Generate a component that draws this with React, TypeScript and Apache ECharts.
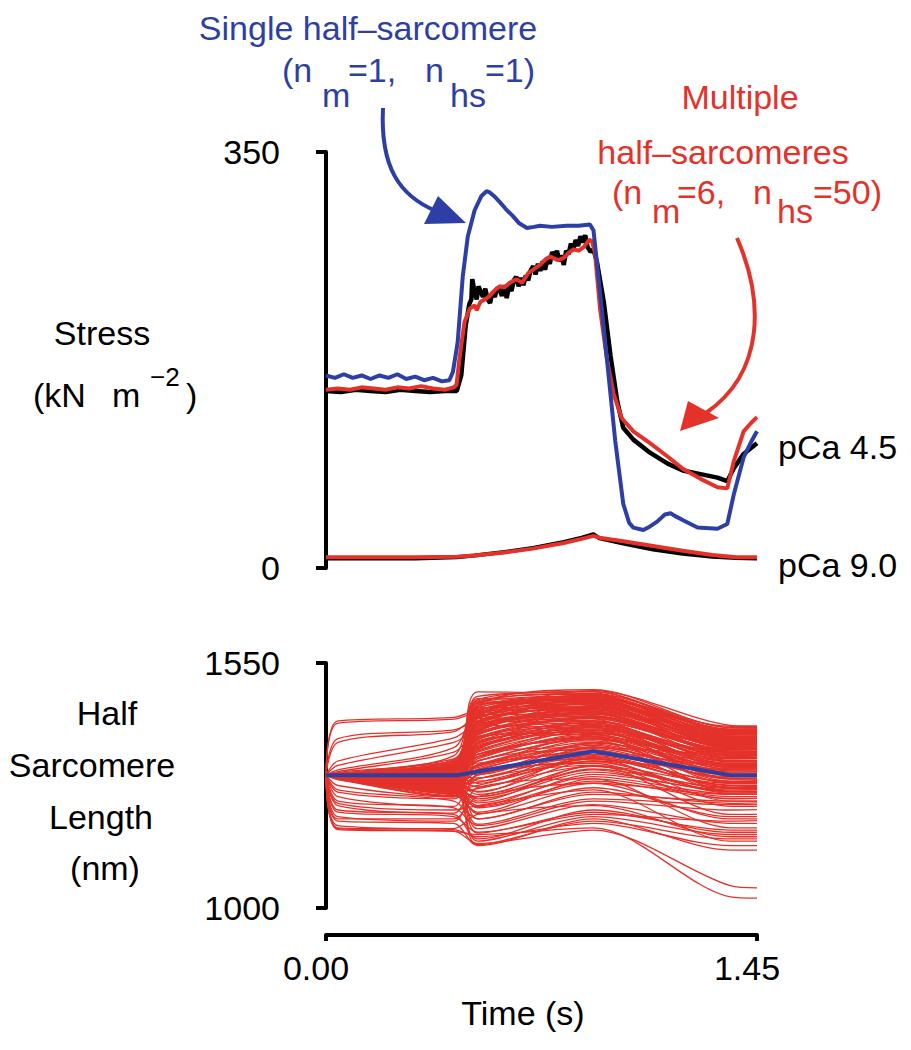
import React, { useEffect, useRef } from "react";
import * as echarts from "echarts";

const BLUE = "#2d3fa5";
const RED = "#e4322b";
const FONT = "'Liberation Sans', Arial, Helvetica, sans-serif";

const timeTicks = [0, 1.45];
const stressTicks = [0, 350];
const lengthTicks = [1000, 1550];

// Stress traces [time (s), stress (kN m^-2)]
const singleHs45: [number, number][] = [
  [0, 162], [0.03, 160], [0.06, 163], [0.09, 160], [0.12, 162], [0.15, 159], [0.18, 162], [0.21, 160],
  [0.24, 163], [0.27, 159], [0.3, 161], [0.33, 158], [0.36, 160], [0.39, 157], [0.415, 158], [0.427, 165],
  [0.443, 190], [0.46, 245], [0.477, 279], [0.5, 301], [0.523, 313], [0.54, 317], [0.551, 316], [0.565, 313],
  [0.584, 308], [0.605, 302], [0.629, 296], [0.65, 290], [0.676, 286], [0.7, 287], [0.72, 288], [0.76, 287],
  [0.81, 288], [0.85, 288], [0.888, 289], [0.9, 284], [0.922, 232], [0.945, 176], [0.973, 107], [1.0, 54],
  [1.02, 38], [1.034, 34], [1.068, 32], [1.09, 35], [1.114, 39], [1.14, 45], [1.159, 46], [1.18, 43],
  [1.203, 40], [1.25, 34], [1.317, 33], [1.35, 37], [1.372, 62], [1.405, 93], [1.43, 106], [1.45, 115],
];

const multiHs45: [number, number][] = [
  [0, 150], [0.04, 151], [0.08, 150], [0.12, 152], [0.16, 151], [0.2, 150], [0.24, 152], [0.28, 151],
  [0.32, 153], [0.36, 151], [0.4, 150], [0.43, 152], [0.439, 154], [0.449, 176], [0.466, 207], [0.483, 218],
  [0.5, 221], [0.507, 217], [0.52, 224], [0.535, 226], [0.551, 229], [0.565, 233], [0.584, 237], [0.6, 236],
  [0.618, 240], [0.64, 243], [0.66, 240], [0.68, 248], [0.697, 251], [0.72, 255], [0.74, 260], [0.754, 262],
  [0.78, 259], [0.8, 261], [0.82, 266], [0.833, 268], [0.85, 267], [0.867, 270], [0.885, 276], [0.895, 275],
  [0.905, 265], [0.922, 218], [0.945, 176], [0.968, 146], [0.995, 126], [1.034, 115], [1.09, 105], [1.148, 94],
  [1.203, 83], [1.26, 75], [1.317, 68], [1.35, 67], [1.372, 90], [1.405, 115], [1.43, 122], [1.45, 127],
];

const experiment45: [number, number][] = [
  [0, 149], [0.05, 148], [0.1, 150], [0.15, 149], [0.2, 148], [0.25, 150], [0.3, 149], [0.35, 148],
  [0.4, 149], [0.44, 149], [0.455, 162], [0.47, 204], [0.482, 222], [0.489, 226], [0.492, 243], [0.497, 236],
  [0.5, 232], [0.507, 226], [0.513, 237], [0.52, 233], [0.528, 228], [0.536, 235], [0.544, 226], [0.552, 223],
  [0.56, 232], [0.568, 228], [0.576, 236], [0.584, 234], [0.592, 229], [0.6, 238], [0.608, 227], [0.616, 238],
  [0.624, 233], [0.632, 242], [0.64, 245], [0.648, 237], [0.656, 244], [0.664, 238], [0.672, 246], [0.68, 242],
  [0.688, 250], [0.697, 254], [0.705, 247], [0.713, 256], [0.721, 250], [0.729, 258], [0.737, 251], [0.745, 260],
  [0.753, 256], [0.761, 266], [0.769, 261], [0.777, 267], [0.785, 258], [0.793, 263], [0.8, 255], [0.808, 267],
  [0.816, 264], [0.824, 273], [0.832, 268], [0.84, 276], [0.848, 271], [0.856, 279], [0.864, 274], [0.872, 280],
  [0.88, 270], [0.89, 266], [0.9, 268], [0.912, 257], [0.935, 223], [0.957, 179], [0.98, 140], [1.0, 118],
  [1.034, 108], [1.09, 97], [1.148, 88], [1.2, 82], [1.26, 79], [1.317, 76], [1.35, 73], [1.372, 84],
  [1.405, 96], [1.43, 101], [1.45, 105],
];

const multiHs90: [number, number][] = [
  [0, 9], [0.1, 9], [0.2, 9], [0.3, 9], [0.44, 9.5], [0.5, 10.5], [0.6, 13], [0.7, 16.5], [0.8, 21],
  [0.86, 24.5], [0.9, 27], [0.92, 25.5], [1.0, 22.5], [1.1, 18.5], [1.2, 14.5], [1.3, 11], [1.38, 9], [1.45, 9],
];

const experiment90: [number, number][] = [
  [0, 8], [0.1, 8], [0.2, 8], [0.3, 8], [0.44, 9], [0.5, 10.5], [0.6, 13.5], [0.7, 17], [0.8, 22],
  [0.86, 25.5], [0.9, 28.5], [0.92, 25], [1.0, 20.5], [1.1, 15.5], [1.2, 12], [1.3, 9.5], [1.38, 8.5], [1.45, 8],
];

// Half-sarcomere lengths (nm) at these times (s)
const hsLenTimes = [0, 0.04, 0.43, 0.51, 0.9, 1.36, 1.45];
const hsLengths: number[][] = [
  [1298, 1420, 1428, 1445, 1488, 1410, 1408],
  [1298, 1415, 1424, 1440, 1480, 1405, 1404],
  [1298, 1380, 1400, 1420, 1470, 1398, 1397],
  [1298, 1372, 1396, 1430, 1460, 1390, 1390],
  [1298, 1330, 1382, 1415, 1475, 1400, 1399],
  [1298, 1320, 1372, 1400, 1462, 1385, 1386],
  [1298, 1310, 1360, 1440, 1450, 1380, 1380],
  [1298, 1306, 1350, 1395, 1440, 1395, 1394],
  [1298, 1304, 1342, 1460, 1455, 1370, 1372],
  [1298, 1302, 1335, 1380, 1430, 1362, 1363],
  [1298, 1300, 1328, 1450, 1468, 1388, 1388],
  [1298, 1300, 1325, 1410, 1445, 1375, 1376],
  [1298, 1299, 1322, 1370, 1420, 1355, 1356],
  [1298, 1299, 1318, 1435, 1478, 1392, 1392],
  [1298, 1299, 1315, 1340, 1400, 1345, 1346],
  [1298, 1299, 1312, 1465, 1440, 1368, 1369],
  [1298, 1299, 1310, 1390, 1425, 1350, 1350],
  [1298, 1298, 1307, 1320, 1385, 1335, 1336],
  [1298, 1298, 1305, 1455, 1470, 1382, 1382],
  [1298, 1298, 1303, 1360, 1410, 1340, 1341],
  [1298, 1298, 1301, 1425, 1452, 1372, 1373],
  [1298, 1298, 1300, 1300, 1370, 1325, 1326],
  [1298, 1298, 1299, 1445, 1462, 1378, 1378],
  [1298, 1298, 1298, 1350, 1395, 1320, 1321],
  [1298, 1298, 1297, 1405, 1435, 1360, 1360],
  [1298, 1298, 1296, 1280, 1360, 1310, 1311],
  [1298, 1298, 1295, 1470, 1458, 1365, 1366],
  [1298, 1298, 1293, 1330, 1380, 1305, 1306],
  [1298, 1298, 1291, 1395, 1415, 1330, 1331],
  [1298, 1298, 1290, 1260, 1345, 1295, 1296],
  [1298, 1298, 1288, 1420, 1448, 1358, 1358],
  [1298, 1297, 1285, 1310, 1365, 1290, 1291],
  [1298, 1297, 1283, 1385, 1405, 1315, 1316],
  [1298, 1297, 1280, 1240, 1320, 1280, 1281],
  [1298, 1297, 1278, 1450, 1442, 1348, 1348],
  [1298, 1297, 1275, 1290, 1340, 1272, 1273],
  [1298, 1296, 1273, 1365, 1390, 1300, 1301],
  [1298, 1296, 1270, 1230, 1300, 1265, 1266],
  [1298, 1295, 1268, 1410, 1430, 1338, 1338],
  [1298, 1294, 1265, 1275, 1330, 1258, 1259],
  [1298, 1293, 1262, 1345, 1375, 1285, 1286],
  [1298, 1292, 1258, 1215, 1290, 1250, 1250],
  [1298, 1290, 1255, 1435, 1425, 1330, 1330],
  [1298, 1288, 1250, 1250, 1310, 1245, 1246],
  [1298, 1275, 1249, 1330, 1355, 1270, 1270],
  [1298, 1265, 1240, 1200, 1260, 1235, 1236],
  [1298, 1250, 1228, 1380, 1400, 1290, 1290],
  [1298, 1240, 1225, 1185, 1240, 1220, 1221],
  [1298, 1230, 1213, 1300, 1335, 1240, 1240],
  [1298, 1215, 1205, 1170, 1210, 1195, 1196],
  [1298, 1200, 1200, 1250, 1280, 1200, 1200],
  [1298, 1180, 1176, 1160, 1190, 1140, 1140],
  [1298, 1178, 1173, 1145, 1175, 1050, 1045],
  [1298, 1176, 1172, 1165, 1180, 1025, 1022],
  [1298, 1185, 1178, 1210, 1230, 1160, 1160],
  [1298, 1195, 1190, 1140, 1200, 1130, 1130],
  [1298, 1205, 1195, 1270, 1290, 1180, 1180],
  [1298, 1220, 1210, 1155, 1220, 1170, 1170],
  [1298, 1235, 1220, 1230, 1265, 1150, 1150],
  [1298, 1260, 1245, 1290, 1320, 1210, 1210],
  [1298, 1299, 1320, 1475, 1485, 1395, 1395],
  [1298, 1298, 1308, 1425, 1465, 1385, 1384],
  [1298, 1298, 1300, 1355, 1455, 1390, 1390],
  [1298, 1297, 1290, 1400, 1445, 1380, 1380],
  [1298, 1296, 1282, 1440, 1472, 1400, 1401],
  [1298, 1299, 1316, 1325, 1350, 1320, 1320],
  [1298, 1298, 1302, 1375, 1395, 1350, 1350],
  [1298, 1297, 1286, 1345, 1360, 1345, 1345],
  [1298, 1296, 1276, 1262, 1330, 1310, 1310],
  [1298, 1295, 1270, 1320, 1345, 1305, 1305],
  [1298, 1294, 1266, 1395, 1440, 1370, 1370],
  [1298, 1293, 1260, 1430, 1470, 1360, 1360],
  [1298, 1299, 1324, 1285, 1335, 1275, 1275],
  [1298, 1298, 1304, 1345, 1385, 1262, 1262],
  [1298, 1297, 1284, 1465, 1480, 1375, 1375],
  [1298, 1296, 1274, 1225, 1280, 1255, 1255],
  [1298, 1299, 1312, 1415, 1460, 1343, 1343],
  [1298, 1298, 1296, 1390, 1420, 1352, 1352],
  [1298, 1297, 1279, 1455, 1490, 1405, 1405],
  [1298, 1296, 1270, 1305, 1325, 1228, 1228],
  [1298, 1299, 1331, 1398, 1452, 1386, 1386],
  [1298, 1299, 1327, 1362, 1418, 1366, 1366],
  [1298, 1299, 1323, 1442, 1466, 1396, 1396],
  [1298, 1299, 1319, 1305, 1372, 1318, 1318],
  [1298, 1299, 1317, 1452, 1475, 1389, 1389],
  [1298, 1299, 1314, 1378, 1428, 1352, 1352],
  [1298, 1299, 1311, 1418, 1446, 1377, 1377],
  [1298, 1298, 1309, 1338, 1392, 1332, 1332],
  [1298, 1298, 1306, 1462, 1482, 1402, 1402],
  [1298, 1298, 1304, 1388, 1436, 1364, 1364],
  [1298, 1298, 1302, 1318, 1378, 1312, 1312],
  [1298, 1298, 1301, 1432, 1458, 1384, 1384],
  [1298, 1298, 1299, 1368, 1412, 1346, 1346],
  [1298, 1298, 1298, 1448, 1472, 1393, 1393],
  [1298, 1298, 1297, 1292, 1362, 1298, 1298],
  [1298, 1298, 1296, 1412, 1450, 1374, 1374],
  [1298, 1298, 1294, 1352, 1402, 1338, 1338],
  [1298, 1298, 1292, 1438, 1464, 1383, 1383],
  [1298, 1298, 1291, 1272, 1338, 1284, 1284],
  [1298, 1298, 1289, 1402, 1438, 1362, 1362],
  [1298, 1297, 1287, 1335, 1388, 1322, 1322],
  [1298, 1297, 1286, 1458, 1468, 1380, 1380],
  [1298, 1297, 1284, 1255, 1318, 1268, 1268],
  [1298, 1297, 1282, 1392, 1428, 1356, 1356],
  [1298, 1297, 1280, 1322, 1372, 1308, 1308],
  [1298, 1297, 1279, 1428, 1452, 1372, 1372],
  [1298, 1296, 1277, 1245, 1305, 1262, 1262],
  [1298, 1296, 1275, 1372, 1415, 1342, 1342],
  [1298, 1296, 1273, 1312, 1352, 1292, 1292],
  [1298, 1296, 1271, 1418, 1446, 1366, 1366],
  [1298, 1295, 1269, 1236, 1295, 1256, 1256],
  [1298, 1295, 1267, 1358, 1398, 1328, 1328],
  [1298, 1294, 1264, 1298, 1342, 1282, 1282],
  [1298, 1294, 1262, 1408, 1436, 1352, 1352],
  [1298, 1293, 1259, 1268, 1318, 1262, 1262],
  [1298, 1292, 1256, 1382, 1410, 1322, 1322],
  [1298, 1300, 1333, 1425, 1478, 1398, 1398],
  [1298, 1300, 1329, 1345, 1405, 1350, 1350],
  [1298, 1299, 1321, 1468, 1486, 1400, 1400],
  [1298, 1299, 1313, 1355, 1408, 1336, 1336],
  [1298, 1298, 1307, 1405, 1442, 1370, 1370],
  [1298, 1298, 1303, 1330, 1382, 1330, 1330],
  [1298, 1298, 1300, 1460, 1476, 1392, 1392],
  [1298, 1298, 1295, 1382, 1425, 1356, 1356],
  [1298, 1298, 1292, 1315, 1368, 1300, 1300],
  [1298, 1297, 1288, 1445, 1462, 1376, 1376],
  [1298, 1297, 1283, 1362, 1405, 1336, 1336],
  [1298, 1296, 1278, 1282, 1335, 1276, 1276],
  [1298, 1296, 1274, 1435, 1456, 1368, 1368],
  [1298, 1295, 1270, 1340, 1382, 1316, 1316],
  [1298, 1294, 1266, 1250, 1312, 1270, 1270],
  [1298, 1293, 1261, 1398, 1432, 1348, 1348],
  [1298, 1292, 1257, 1320, 1358, 1290, 1290],
  [1298, 1291, 1253, 1228, 1285, 1246, 1246],
  [1298, 1290, 1252, 1372, 1395, 1312, 1312],
  [1298, 1289, 1251, 1300, 1328, 1260, 1260],
  [1298, 1299, 1326, 1385, 1395, 1325, 1325],
  [1298, 1298, 1310, 1415, 1420, 1315, 1315],
  [1298, 1298, 1298, 1425, 1418, 1300, 1300],
  [1298, 1297, 1285, 1440, 1410, 1290, 1290],
  [1298, 1296, 1276, 1410, 1395, 1280, 1280],
  [1298, 1295, 1268, 1430, 1385, 1262, 1262],
  [1298, 1299, 1318, 1200, 1255, 1240, 1240],
  [1298, 1297, 1282, 1188, 1245, 1232, 1232],
  [1298, 1296, 1272, 1212, 1270, 1205, 1205],
  [1298, 1298, 1301, 1178, 1232, 1190, 1190],
  [1298, 1297, 1288, 1168, 1215, 1175, 1175],
  [1298, 1296, 1276, 1150, 1205, 1165, 1165],
  [1298, 1295, 1269, 1142, 1195, 1155, 1155],
  [1298, 1298, 1305, 1485, 1478, 1408, 1408],
];

const singleHsLenTimes = [0, 0.44, 0.9, 1.36, 1.45];
const singleHsLen = [1298, 1298, 1352, 1298, 1298];

type TextItem = { text: string; x: number; y: number; fill?: string; align?: string; size?: number };

const annotationTexts: TextItem[] = [
  { text: "Single half–sarcomere", x: 368, y: 28, fill: BLUE, align: "center" },
  { text: "(n", x: 282, y: 70, fill: BLUE },
  { text: "m", x: 322, y: 95, fill: BLUE },
  { text: "=1,", x: 348, y: 70, fill: BLUE },
  { text: "n", x: 425, y: 70, fill: BLUE },
  { text: "hs", x: 450, y: 95, fill: BLUE },
  { text: "=1)", x: 485, y: 70, fill: BLUE },
  { text: "Multiple", x: 740, y: 97, fill: RED, align: "center" },
  { text: "half–sarcomeres", x: 723, y: 152, fill: RED, align: "center" },
  { text: "(n", x: 612, y: 192, fill: RED },
  { text: "m", x: 652, y: 211, fill: RED },
  { text: "=6,", x: 677, y: 192, fill: RED },
  { text: "n", x: 753, y: 192, fill: RED },
  { text: "hs", x: 777, y: 211, fill: RED },
  { text: "=50)", x: 813, y: 192, fill: RED },
  { text: "Stress", x: 102, y: 333, align: "center" },
  { text: "(kN", x: 33, y: 395 },
  { text: "m", x: 112, y: 395 },
  { text: "−2", x: 150, y: 377, size: 26 },
  { text: ")", x: 186, y: 395 },
  { text: "pCa 4.5", x: 778, y: 447 },
  { text: "pCa 9.0", x: 778, y: 565 },
  { text: "Half", x: 107, y: 713, align: "center" },
  { text: "Sarcomere", x: 92, y: 765, align: "center" },
  { text: "Length", x: 101, y: 817, align: "center" },
  { text: "(nm)", x: 105, y: 868, align: "center" },
  { text: "Time (s)", x: 523, y: 1013, align: "center" },
];

export default function App() {
  const ref = useRef<HTMLDivElement>(null);
  useEffect(() => {
    document.body.style.margin = "0";
    document.body.style.overflow = "hidden";
    if (!ref.current) return;
    const chart = echarts.init(ref.current, undefined, { renderer: "svg" });

    const axisLineStyle = { color: "#000", width: 4 };
    const labelStyle = { color: "#000", fontSize: 34, fontFamily: FONT };

    const series: any[] = [];
    const lineBase = { type: "line", showSymbol: false, symbol: "none", silent: true, animation: false };
    series.push({ ...lineBase, name: "Experiment pCa 9.0", xAxisIndex: 0, yAxisIndex: 0, data: experiment90, lineStyle: { color: "#000", width: 4 }, z: 2 });
    series.push({ ...lineBase, name: "Experiment pCa 4.5", xAxisIndex: 0, yAxisIndex: 0, data: experiment45, lineStyle: { color: "#000", width: 4.5 }, z: 2 });
    series.push({ ...lineBase, name: "Multiple pCa 9.0", xAxisIndex: 0, yAxisIndex: 0, data: multiHs90, lineStyle: { color: RED, width: 4 }, z: 3 });
    series.push({ ...lineBase, name: "Multiple pCa 4.5", xAxisIndex: 0, yAxisIndex: 0, data: multiHs45, lineStyle: { color: RED, width: 4 }, z: 3 });
    series.push({ ...lineBase, name: "Single pCa 4.5", xAxisIndex: 0, yAxisIndex: 0, data: singleHs45, lineStyle: { color: BLUE, width: 4 }, z: 4 });

    hsLengths.forEach((row, i) => {
      series.push({
        ...lineBase,
        name: "hs" + i,
        xAxisIndex: 1,
        yAxisIndex: 1,
        smooth: 0.3,
        data: row.map((v, j) => [hsLenTimes[j], v]),
        lineStyle: { color: RED, width: 1.3 },
        z: 2,
      });
    });
    series.push({
      ...lineBase,
      name: "Single hs length",
      xAxisIndex: 1,
      yAxisIndex: 1,
      data: singleHsLen.map((v, j) => [singleHsLenTimes[j], v]),
      lineStyle: { color: BLUE, width: 4 },
      z: 5,
    });

    const graphic: any[] = annotationTexts.map((t) => ({
      type: "text",
      x: t.x,
      y: t.y,
      silent: true,
      style: {
        text: t.text,
        fill: t.fill || "#000",
        fontSize: t.size || 34,
        fontFamily: FONT,
        align: t.align || "left",
        verticalAlign: "middle",
      },
    }));
    // blue arrow
    graphic.push({
      type: "bezierCurve",
      silent: true,
      shape: { x1: 383, y1: 108, cpx1: 380, cpy1: 168, cpx2: 400, cpy2: 196, x2: 436, y2: 211 },
      style: { stroke: BLUE, lineWidth: 4, fill: null },
    });
    graphic.push({
      type: "polygon",
      silent: true,
      shape: { points: [[466, 223], [424, 224], [438, 196]] },
      style: { fill: BLUE },
    });
    // red arrow
    graphic.push({
      type: "bezierCurve",
      silent: true,
      shape: { x1: 737, y1: 238, cpx1: 764, cpy1: 300, cpx2: 765, cpy2: 372, x2: 706, y2: 413 },
      style: { stroke: RED, lineWidth: 4, fill: null },
    });
    graphic.push({
      type: "polygon",
      silent: true,
      shape: { points: [[680, 431], [688, 401], [719, 418]] },
      style: { fill: RED },
    });

    chart.setOption({
      animation: false,
      backgroundColor: "#fff",
      grid: [
        { left: 326, width: 431, top: 152, height: 416 },
        { left: 326, width: 431, top: 663, height: 245 },
      ],
      xAxis: [
        { type: "value", gridIndex: 0, min: 0, max: 1.45, show: false },
        {
          type: "value",
          gridIndex: 1,
          min: 0,
          max: 1.45,
          interval: 1.45,
          offset: 27,
          axisLine: { show: true, lineStyle: axisLineStyle },
          axisTick: { show: true, length: 6, lineStyle: { color: "#000", width: 4 }, customValues: timeTicks },
          axisLabel: {
            ...labelStyle,
            margin: 16,
            padding: [0, 20, 0, 0],
            customValues: timeTicks,
            formatter: (v: number) => v.toFixed(2),
          },
          splitLine: { show: false },
        },
      ],
      yAxis: [
        {
          type: "value",
          gridIndex: 0,
          min: 0,
          max: 350,
          interval: 350,
          offset: 22,
          axisLine: { show: true, lineStyle: axisLineStyle },
          axisTick: { show: true, length: 10, lineStyle: { color: "#000", width: 4 }, customValues: stressTicks },
          axisLabel: { ...labelStyle, margin: 24, customValues: stressTicks, formatter: (v: number) => String(v) },
          splitLine: { show: false },
        },
        {
          type: "value",
          gridIndex: 1,
          min: 1000,
          max: 1550,
          offset: 22,
          axisLine: { show: true, lineStyle: axisLineStyle },
          axisTick: { show: true, length: 10, lineStyle: { color: "#000", width: 4 }, customValues: lengthTicks },
          axisLabel: { ...labelStyle, margin: 24, customValues: lengthTicks, formatter: (v: number) => String(v) },
          splitLine: { show: false },
        },
      ],
      series,
      graphic,
    });
    return () => chart.dispose();
  }, []);
  return <div ref={ref} style={{ width: 911, height: 1050 }} />;
}
